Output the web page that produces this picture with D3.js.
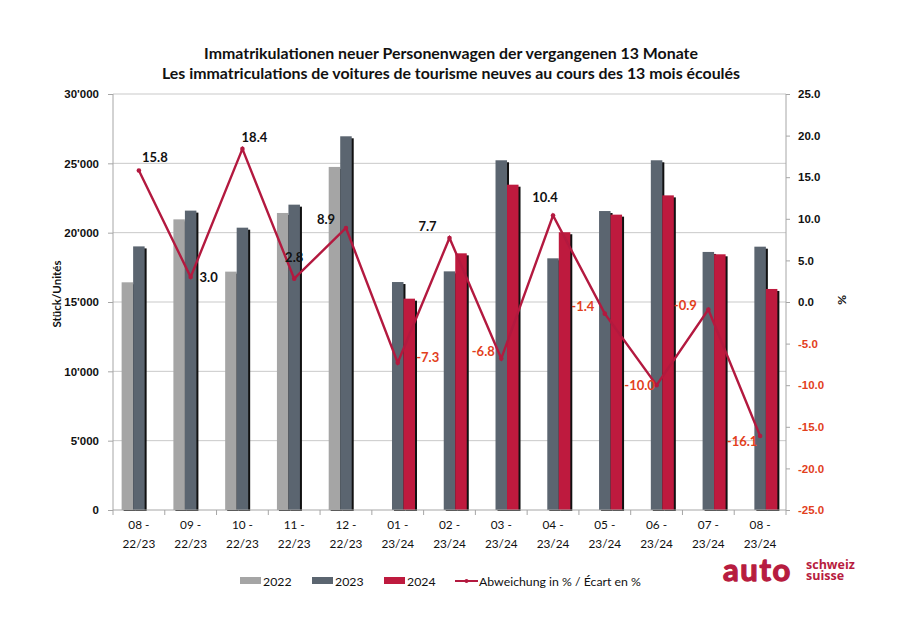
<!DOCTYPE html>
<html>
<head>
<meta charset="utf-8">
<script src="https://cdn.jsdelivr.net/npm/d3@7/dist/d3.min.js"></script>
<style>
  html, body { margin: 0; padding: 0; background: #fff; }
  svg { display: block; font-family: Lato, "Open Sans", sans-serif; }
</style>
</head>
<body>
<svg id="chart" width="900" height="632"></svg>
<script>
// ---------- data ----------
const categories = ["08 - 22/23","09 - 22/23","10 - 22/23","11 - 22/23","12 - 22/23",
  "01 - 23/24","02 - 23/24","03 - 23/24","04 - 23/24","05 - 23/24","06 - 23/24","07 - 23/24","08 - 23/24"];
const seriesNames = ["2022","2023","2024"];
const values2022 = [16420, 20960, 17190, 21420, 24740, null, null, null, null, null, null, null, null];
const values2023 = [19010, 21590, 20360, 22020, 26950, 16440, 17210, 25220, 18150, 21560, 25220, 18610, 18990];
const values2024 = [null, null, null, null, null, 15240, 18510, 23460, 20030, 21300, 22690, 18440, 15940];
const changePct  = [15.8, 3.0, 18.4, 2.8, 8.9, -7.3, 7.7, -6.8, 10.4, -1.4, -10.0, -0.9, -16.1];
const leftTicks  = [0, 5000, 10000, 15000, 20000, 25000, 30000];
const rightTicks = [-25, -20, -15, -10, -5, 0, 5, 10, 15, 20, 25];
const lineLegend = "Abweichung in % / Écart en %";
const titleLines = ["Immatrikulationen neuer Personenwagen der vergangenen 13 Monate",
  "Les immatriculations de voitures de tourisme neuves au cours des 13 mois écoulés"];

// label placement (pixel offsets from the point)
const labelOffsets = [[16,-14],[18,0],[12,-12],[0,-22],[-20,-9],[30,-6],[-22,-12],[-18,-8],[-8,-18],[-22,-8],[-17,0],[-23,-4],[-18,5]];

// ---------- styles ----------
const colors = {"2022": "#a5a5a5", "2023": "#5b6570", "2024": "#be1a3e"};
const lineColor = "#b3193f";
const negColor = "#e2401d";
const axisColor = "#a6a6a6";
const gridColor = "#c9c9c9";

const svg = d3.select("#chart");
const L = 113, R = 786, T = 94, B = 510;

const locale = d3.formatLocale({decimal: ".", thousands: "'", grouping: [3], currency: ["", ""], minus: "-"});
const fmtThousands = locale.format(",");
const fmtPct = locale.format(".1f");

const x = d3.scaleBand().domain(categories).range([L, R]).paddingInner(1/3).paddingOuter(1/6);
const xs = d3.scaleBand().domain(seriesNames).range([0, x.bandwidth()]);
const y = d3.scaleLinear().domain([0, 30000]).range([B, T]);
const y2 = d3.scaleLinear().domain([-25, 25]).range([B, T]);

// title
svg.append("g").selectAll("text").data(titleLines).join("text")
  .attr("x", 451).attr("y", (d, i) => 52 + i * 20)
  .attr("text-anchor", "middle").attr("dominant-baseline", "central")
  .attr("font-weight", "bold").attr("font-size", 15.9).attr("fill", "#111")
  .text(d => d);

// gridlines
svg.append("g").selectAll("line").data(leftTicks.filter(d => d > 0)).join("line")
  .attr("x1", L).attr("x2", R).attr("y1", d => y(d)).attr("y2", d => y(d))
  .attr("stroke", gridColor).attr("stroke-width", 1);

// bars
const rows = categories.map((c, i) => ({cat: c, "2022": values2022[i], "2023": values2023[i], "2024": values2024[i]}));
const barData = [];
rows.forEach(r => seriesNames.forEach(s => { if (r[s] != null) barData.push({cat: r.cat, s, v: r[s]}); }));

const gBars = svg.append("g");
// shadows
gBars.selectAll("rect.sh").data(barData).join("rect").attr("class", "sh")
  .attr("x", d => x(d.cat) + xs(d.s) + 2)
  .attr("y", d => y(d.v) + 2)
  .attr("width", xs.bandwidth())
  .attr("height", d => B + 1 - y(d.v) - 2)
  .attr("fill", "#111");
gBars.selectAll("rect.bar").data(barData).join("rect").attr("class", "bar")
  .attr("x", d => x(d.cat) + xs(d.s))
  .attr("y", d => y(d.v))
  .attr("width", xs.bandwidth())
  .attr("height", d => B - y(d.v))
  .attr("fill", d => colors[d.s]);

// axes
const axL = svg.append("g").attr("transform", `translate(${L},0)`)
  .call(d3.axisLeft(y).tickValues(leftTicks).tickSize(5).tickPadding(9).tickFormat(fmtThousands));
const axR = svg.append("g").attr("transform", `translate(${R},0)`)
  .call(d3.axisRight(y2).tickValues(rightTicks).tickSize(4).tickPadding(8).tickFormat(fmtPct));
[axL, axR].forEach(a => {
  a.selectAll(".tick line").attr("stroke", axisColor);
  a.selectAll("text").attr("font-weight", "bold").attr("font-size", 11.5).attr("fill", "#111");
});
axL.select(".domain").remove();
axR.select(".domain").remove();
svg.append("line").attr("x1", L).attr("x2", L).attr("y1", T).attr("y2", B).attr("stroke", axisColor);
svg.append("line").attr("x1", R).attr("x2", R).attr("y1", T).attr("y2", B).attr("stroke", axisColor);
axR.selectAll(".tick text").attr("fill", d => d < 0 ? negColor : "#111");

// x axis
svg.append("line").attr("x1", L).attr("x2", R).attr("y1", B).attr("y2", B).attr("stroke", axisColor);
const bounds = d3.range(categories.length + 1).map(i => L + i * x.step());
svg.append("g").selectAll("line").data(bounds).join("line")
  .attr("x1", d => d).attr("x2", d => d).attr("y1", B).attr("y2", B + 5).attr("stroke", axisColor);
svg.append("g").selectAll("text").data(categories).join("text")
  .attr("x", d => x(d) + x.bandwidth() / 2).attr("y", 529)
  .attr("text-anchor", "middle").attr("font-size", 11.8).attr("fill", "#111")
  .text(d => d.split(" - ")[0] + " -");
svg.append("g").selectAll("text").data(categories).join("text")
  .attr("x", d => x(d) + x.bandwidth() / 2).attr("y", 547.5)
  .attr("text-anchor", "middle").attr("font-size", 11.8).attr("fill", "#111")
  .text(d => d.split(" - ")[1]);

// axis titles
svg.append("text").attr("transform", "translate(56,294) rotate(-90)")
  .attr("text-anchor", "middle").attr("dominant-baseline", "central")
  .attr("font-size", 11.5).attr("font-weight", "bold").attr("fill", "#111").text("Stück/Unités");
svg.append("text").attr("transform", "translate(842,300) rotate(90)")
  .attr("text-anchor", "middle").attr("dominant-baseline", "central")
  .attr("font-size", 12).attr("font-weight", "bold").attr("fill", "#111").text("%");

// line
const pts = categories.map((c, i) => ({cat: c, v: changePct[i], i}));
const line = d3.line().x(d => x(d.cat) + x.bandwidth() / 2).y(d => y2(d.v));
svg.append("path").datum(pts).attr("d", line)
  .attr("fill", "none").attr("stroke", lineColor).attr("stroke-width", 2.4).attr("stroke-linejoin", "miter");
svg.append("g").selectAll("circle").data(pts).join("circle")
  .attr("cx", d => x(d.cat) + x.bandwidth() / 2).attr("cy", d => y2(d.v)).attr("r", 2.3)
  .attr("fill", lineColor);

// data labels
svg.append("g").selectAll("text").data(pts).join("text")
  .attr("x", d => x(d.cat) + x.bandwidth() / 2 + labelOffsets[d.i][0])
  .attr("y", d => y2(d.v) + labelOffsets[d.i][1])
  .attr("text-anchor", "middle").attr("dominant-baseline", "central")
  .attr("font-weight", "bold").attr("font-size", 13)
  .attr("fill", d => d.v < 0 ? negColor : "#111")
  .text(d => fmtPct(d.v));

// legend
const legItems = seriesNames.map((s, i) => ({s, x: 240 + i * 72}));
const gl = svg.append("g");
gl.selectAll("rect").data(legItems).join("rect")
  .attr("x", d => d.x).attr("y", 577).attr("width", 21).attr("height", 7).attr("fill", d => colors[d.s]);
gl.selectAll("text.s").data(legItems).join("text").attr("class", "s")
  .attr("x", d => d.x + 23).attr("y", 581).attr("dominant-baseline", "central")
  .attr("font-size", 12.3).attr("fill", "#111").text(d => d.s);
gl.append("line").attr("x1", 455).attr("x2", 478).attr("y1", 581).attr("y2", 581)
  .attr("stroke", lineColor).attr("stroke-width", 2);
gl.append("circle").attr("cx", 466.5).attr("cy", 581).attr("r", 2).attr("fill", lineColor);
gl.append("text").attr("x", 479).attr("y", 581).attr("dominant-baseline", "central")
  .attr("font-size", 12.3).attr("fill", "#111").text(lineLegend);

// logo
const logoColor = "#b71c40";
svg.append("text").attr("x", 723).attr("y", 580.5).attr("font-size", 31).attr("font-weight", "bold")
  .attr("letter-spacing", 1.6).attr("fill", logoColor)
  .attr("stroke", logoColor).attr("stroke-width", 1.3).attr("stroke-linejoin", "round")
  .attr("font-family", "Lato, sans-serif").text("auto");
const sub = svg.append("text").attr("font-size", 12.5).attr("font-weight", "bold")
  .attr("fill", logoColor).attr("font-family", "'Open Sans', sans-serif");
sub.append("tspan").attr("x", 806).attr("y", 569).text("schweiz");
sub.append("tspan").attr("x", 806).attr("y", 580).text("suisse");
</script>
</body>
</html>
